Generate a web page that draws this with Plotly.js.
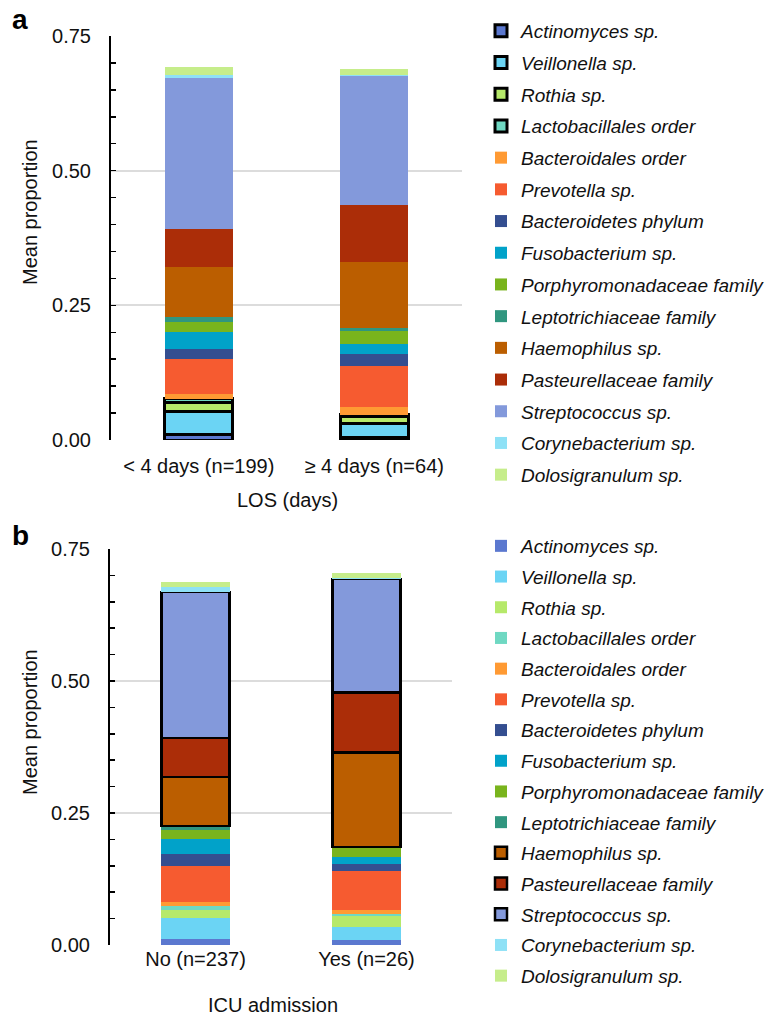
<!DOCTYPE html>
<html>
<head>
<meta charset="utf-8">
<script src="https://cdn.plot.ly/plotly-3.0.1.min.js"></script>
<style>html,body{margin:0;padding:0;background:#fff;}#chart{width:768px;height:1018px;}</style>
</head>
<body>
<div id="chart"></div>
<script>
// Taxa, bottom of stack first (also legend order)
const taxa = ['Actinomyces sp.', 'Veillonella sp.', 'Rothia sp.', 'Lactobacillales order',
  'Bacteroidales order', 'Prevotella sp.', 'Bacteroidetes phylum', 'Fusobacterium sp.',
  'Porphyromonadaceae family', 'Leptotrichiaceae family', 'Haemophilus sp.',
  'Pasteurellaceae family', 'Streptococcus sp.', 'Corynebacterium sp.', 'Dolosigranulum sp.'];
const colors = ['#5b78cf', '#6bd4f4', '#b6e96a', '#6fd8c2', '#ff9a33', '#f65b30', '#344e90',
  '#01a2c9', '#79b41d', '#30967f', '#bb5e00', '#ab2d08', '#8399db', '#8ee1f6', '#c6ed8b'];

// Panel a: length of stay
const losCategories = ['< 4 days (n=199)', '≥ 4 days (n=64)'];
const losShort = [0.010, 0.043, 0.017, 0.007, 0.009, 0.064, 0.019, 0.032, 0.018, 0.009, 0.093, 0.071, 0.280, 0.006, 0.014];
const losLong  = [0.004, 0.026, 0.014, 0.003, 0.014, 0.076, 0.023, 0.019, 0.023, 0.006, 0.123, 0.106, 0.238, 0.002, 0.012];
const losHighlighted = ['Actinomyces sp.', 'Veillonella sp.', 'Rothia sp.', 'Lactobacillales order'];

// Panel b: ICU admission
const icuCategories = ['No (n=237)', 'Yes (n=26)'];
const icuNo  = [0.011, 0.040, 0.016, 0.006, 0.009, 0.068, 0.022, 0.028, 0.017, 0.008, 0.093, 0.074, 0.277, 0.009, 0.009];
const icuYes = [0.009, 0.025, 0.020, 0.004, 0.009, 0.074, 0.013, 0.013, 0.016, 0.003, 0.179, 0.113, 0.215, 0.003, 0.008];
const icuHighlighted = ['Haemophilus sp.', 'Pasteurellaceae family', 'Streptococcus sp.'];

const FONT = 'Liberation Sans, Arial, Helvetica, sans-serif';
const traces = [];
taxa.forEach((t, i) => {
  const hiA = losHighlighted.includes(t);
  traces.push({
    type: 'bar', name: t, x: losCategories, y: [losShort[i], losLong[i]],
    xaxis: 'x', yaxis: 'y', width: 0.39, legend: 'legend', legendgroup: 'a' + i,
    marker: {color: colors[i], line: {color: '#000', width: hiA ? 3 : 0}},
    hoverinfo: 'name+y'
  });
});
taxa.forEach((t, i) => {
  const hiB = icuHighlighted.includes(t);
  traces.push({
    type: 'bar', name: t, x: icuCategories, y: [icuNo[i], icuYes[i]],
    xaxis: 'x2', yaxis: 'y2', width: 0.40, legend: 'legend2', legendgroup: 'b' + i,
    marker: {color: colors[i], line: {color: '#000', width: hiB ? 2.5 : 0}},
    hoverinfo: 'name+y'
  });
});

const yax = (domain) => ({
  domain: domain, range: [0, 0.75], dtick: 0.25, tickformat: '.2f',
  showline: true, linecolor: '#000', linewidth: 2,
  ticks: 'inside', ticklen: 5, tickwidth: 1.5, tickcolor: '#000',
  minor: {dtick: 0.05, ticks: 'inside', ticklen: 5, tickwidth: 1.5, tickcolor: '#000', showgrid: false},
  showgrid: true, gridcolor: '#dcdcdc', gridwidth: 2, zeroline: false,
  tickfont: {size: 20, color: '#111', family: FONT}, ticklabelstandoff: 14, fixedrange: true,
  automargin: false
});
const xax = (domain, anchor, standoff) => ({
  domain: domain, anchor: anchor, showgrid: false, showline: false, zeroline: false,
  ticks: '', tickfont: {size: 20, color: '#111', family: FONT}, fixedrange: true,
  ticklabelstandoff: standoff, automargin: false
});
const legendCfg = (top, gap) => ({
  x: 481 / 768, xanchor: 'left', y: 1 - top / 1018, yanchor: 'top',
  traceorder: 'grouped', tracegroupgap: gap, bgcolor: 'rgba(0,0,0,0)',
  font: {size: 19, color: '#111', family: FONT, style: 'italic'}
});

const layout = {
  width: 768, height: 1018, margin: {l: 0, r: 0, t: 0, b: 0, autoexpand: false},
  paper_bgcolor: '#fff', plot_bgcolor: '#fff', barmode: 'stack', showlegend: true,
  font: {family: FONT, color: '#111'},
  xaxis: xax([111 / 768, 462 / 768], 'y', 12),
  yaxis: yax([1 - 440 / 1018, 1 - 36 / 1018]),
  xaxis2: xax([110 / 768, 452 / 768], 'y2', 0),
  yaxis2: Object.assign(yax([1 - 945 / 1018, 1 - 549 / 1018]), {anchor: 'x2'}),
  legend: legendCfg(12, 4),
  legend2: legendCfg(527, 3),
  annotations: [
    {text: '<b>a</b>', xref: 'paper', yref: 'paper', x: 10 / 768, y: 1 - 20 / 1018, xanchor: 'left', yanchor: 'middle', showarrow: false, font: {size: 28, color: '#000', family: FONT}},
    {text: '<b>b</b>', xref: 'paper', yref: 'paper', x: 10 / 768, y: 1 - 535 / 1018, xanchor: 'left', yanchor: 'middle', showarrow: false, font: {size: 28, color: '#000', family: FONT}},
    {text: 'Mean proportion', textangle: -90, xref: 'paper', yref: 'paper', x: 30 / 768, y: 1 - 212 / 1018, xanchor: 'center', yanchor: 'middle', showarrow: false, font: {size: 20, color: '#111', family: FONT}},
    {text: 'Mean proportion', textangle: -90, xref: 'paper', yref: 'paper', x: 30 / 768, y: 1 - 722 / 1018, xanchor: 'center', yanchor: 'middle', showarrow: false, font: {size: 20, color: '#111', family: FONT}},
    {text: 'LOS (days)', xref: 'paper', yref: 'paper', x: 287 / 768, y: 1 - 500 / 1018, xanchor: 'center', yanchor: 'middle', showarrow: false, font: {size: 20, color: '#111', family: FONT}},
    {text: 'ICU admission', xref: 'paper', yref: 'paper', x: 273 / 768, y: 1 - 1005 / 1018, xanchor: 'center', yanchor: 'middle', showarrow: false, font: {size: 20, color: '#111', family: FONT}}
  ]
};

Plotly.newPlot('chart', traces, layout, {displayModeBar: false, staticPlot: true});
</script>
</body>
</html>
